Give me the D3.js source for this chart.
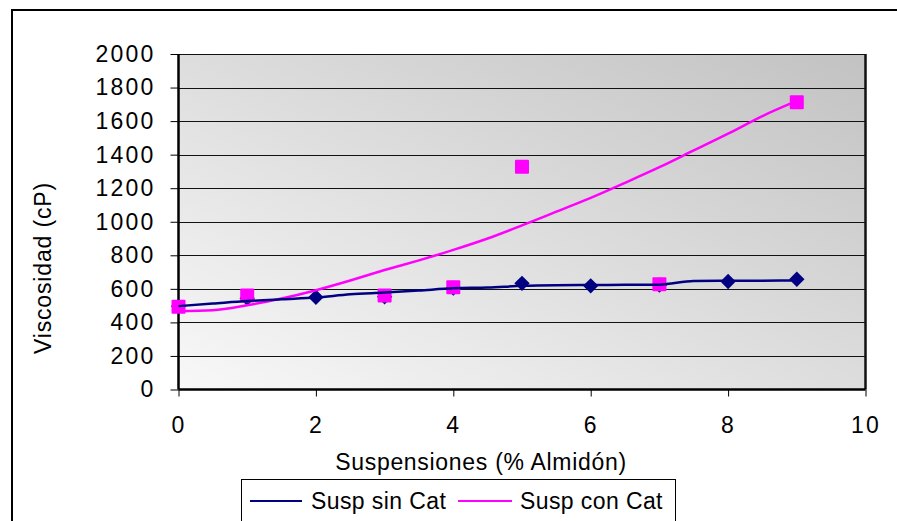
<!DOCTYPE html>
<html>
<head>
<meta charset="utf-8">
<script src="https://cdn.jsdelivr.net/npm/d3@7/dist/d3.min.js"></script>
<style>
  html, body { margin: 0; padding: 0; background: #fff; }
  svg { display: block; font-family: "Liberation Sans", Arial, sans-serif; }
</style>
</head>
<body>
<svg id="chart" width="897" height="521"></svg>
<script>
// Starch suspensions: viscosity without / with catalyst
const concentraciones = [0, 1, 2, 3, 4, 5, 6, 7, 8, 9];
const viscSinCat = [497, 544, 550, 553, 604, 633, 618, 622, 644, 657];

const concConCat = [0, 1, 3, 4, 5, 7, 9];
const viscConCat = [494, 560, 561, 610, 1328, 627, 1712];

// Trend curves, sampled every 0.5 %
const trendX = [0, 0.5, 1, 1.5, 2, 2.5, 3, 3.5, 4, 4.5, 5, 5.5, 6, 6.5, 7, 7.5, 8, 8.5, 9];
const trendSinCat = [497, 512, 527, 538, 548, 568, 578, 590, 603, 608, 618, 622, 623, 624, 625, 647, 648, 649, 650];
const trendConCat = [466, 472, 502, 542, 592, 650, 712, 770, 832, 900, 978, 1060, 1142, 1232, 1325, 1425, 1525, 1630, 1720];

const xTicks = [0, 2, 4, 6, 8, 10];
const yTicks = [0, 200, 400, 600, 800, 1000, 1200, 1400, 1600, 1800, 2000];

const seriesNames = ["Susp sin Cat", "Susp con Cat"];
const colSin = "#000080", colCon = "#ff00ff";

const svg = d3.select("#chart");
const plot = { left: 178.5, right: 865.5, top: 54, bottom: 389.5 };

const x = d3.scaleLinear().domain([0, 10]).range([plot.left, plot.right]);
const y = d3.scaleLinear().domain([0, 2000]).range([plot.bottom, plot.top]);

// Outer chart frame
svg.append("path")
  .attr("d", "M12,530 L12,10 L905,10")
  .attr("fill", "none").attr("stroke", "#000").attr("stroke-width", 2);

// Plot area background gradient
const defs = svg.append("defs");
const grad = defs.append("linearGradient").attr("id", "bg")
  .attr("x1", 0).attr("y1", 1).attr("x2", 1).attr("y2", 0);
grad.append("stop").attr("offset", "0%").attr("stop-color", "#f8f8f8");
grad.append("stop").attr("offset", "100%").attr("stop-color", "#c2c2c2");

svg.append("rect")
  .attr("x", plot.left).attr("y", plot.top)
  .attr("width", plot.right - plot.left).attr("height", plot.bottom - plot.top)
  .attr("fill", "url(#bg)");

// Gridlines
svg.append("g").selectAll("line").data(yTicks.filter(d => d > 0)).join("line")
  .attr("x1", plot.left).attr("x2", plot.right)
  .attr("y1", d => Math.round(y(d)) + 0.5).attr("y2", d => Math.round(y(d)) + 0.5)
  .attr("stroke", "#111").attr("stroke-width", 1);

// Right border of plot area
svg.append("line")
  .attr("x1", plot.right).attr("x2", plot.right)
  .attr("y1", plot.top).attr("y2", plot.bottom)
  .attr("stroke", "#111").attr("stroke-width", 2.5);

// Axes
const yAxis = d3.axisLeft(y).tickValues(yTicks).tickSize(8).tickPadding(15).tickFormat(d3.format("d"));
const xAxis = d3.axisBottom(x).tickValues(xTicks).tickSize(7).tickPadding(20).tickFormat(d3.format("d"));

const gy = svg.append("g").attr("transform", `translate(${plot.left},0)`).call(yAxis);
const gx = svg.append("g").attr("transform", `translate(0,${plot.bottom})`).call(xAxis);

[gy, gx].forEach(g => {
  g.select(".domain").attr("stroke", "#000").attr("stroke-width", 2.5);
  g.selectAll(".tick line").attr("stroke", "#000").attr("stroke-width", 1);
  g.selectAll(".tick text")
    .attr("fill", "#000").attr("font-size", 23)
    .attr("font-family", "'Liberation Sans', Arial, sans-serif")
    .attr("letter-spacing", 2.2);
});
gx.select(".domain").attr("d", `M${plot.left},0H${plot.right}`);
gy.select(".domain").attr("d", `M0,${plot.bottom}V${plot.top}`);

// Axis titles
svg.append("text")
  .attr("x", 481).attr("y", 470)
  .attr("text-anchor", "middle").attr("font-size", 23).attr("letter-spacing", 0.7)
  .text("Suspensiones (% Almidón)");

svg.append("text")
  .attr("transform", "translate(51,268) rotate(-90)")
  .attr("text-anchor", "middle").attr("font-size", 23).attr("letter-spacing", 0.85)
  .text("Viscosidad (cP)");

// Markers: diamonds (sin Cat)
const diamond = d3.symbol().type(d3.symbolDiamond2).size(150);
svg.append("g").selectAll("path").data(concentraciones).join("path")
  .attr("d", diamond)
  .attr("transform", (d, i) => `translate(${x(d)},${y(viscSinCat[i])})`)
  .attr("fill", colSin);

// Markers: squares (con Cat)
const sq = 14;
svg.append("g").selectAll("rect").data(concConCat).join("rect")
  .attr("x", d => x(d) - sq / 2)
  .attr("y", (d, i) => y(viscConCat[i]) - sq / 2)
  .attr("width", sq).attr("height", sq).attr("rx", 1)
  .attr("fill", colCon);

// Trend lines
const line = d3.line().x(d => x(d[0])).y(d => y(d[1])).curve(d3.curveMonotoneX);
svg.append("path")
  .datum(trendX.map((d, i) => [d, trendConCat[i]]))
  .attr("d", line).attr("fill", "none")
  .attr("stroke", colCon).attr("stroke-width", 2.5);
svg.append("path")
  .datum(trendX.map((d, i) => [d, trendSinCat[i]]))
  .attr("d", line).attr("fill", "none")
  .attr("stroke", colSin).attr("stroke-width", 2.5);

// Legend
const leg = svg.append("g");
leg.append("rect")
  .attr("x", 241.5).attr("y", 479.5).attr("width", 434).attr("height", 60)
  .attr("fill", "#fff").attr("stroke", "#000").attr("stroke-width", 1);
const legItems = [
  { name: seriesNames[0], color: colSin, x0: 250, x1: 302, tx: 311 },
  { name: seriesNames[1], color: colCon, x0: 458, x1: 512, tx: 520 }
];
legItems.forEach(it => {
  leg.append("line")
    .attr("x1", it.x0).attr("x2", it.x1).attr("y1", 501).attr("y2", 501)
    .attr("stroke", it.color).attr("stroke-width", 2);
  leg.append("text")
    .attr("x", it.tx).attr("y", 509)
    .attr("font-size", 23).attr("letter-spacing", 0.4)
    .text(it.name);
});
</script>
</body>
</html>
